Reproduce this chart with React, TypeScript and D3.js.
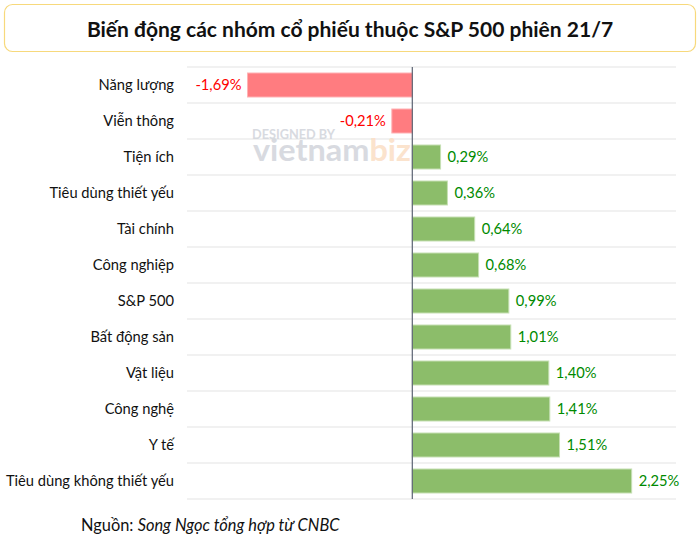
import React from "react";
import * as d3 from "d3";

const categories = [
  "Năng lượng",
  "Viễn thông",
  "Tiện ích",
  "Tiêu dùng thiết yếu",
  "Tài chính",
  "Công nghiệp",
  "S&P 500",
  "Bất động sản",
  "Vật liệu",
  "Công nghệ",
  "Y tế",
  "Tiêu dùng không thiết yếu",
];
const values = [-1.69, -0.21, 0.29, 0.36, 0.64, 0.68, 0.99, 1.01, 1.4, 1.41, 1.51, 2.25];
const title = "Biến động các nhóm cổ phiếu thuộc S&P 500 phiên 21/7";

const W = 700;
const H = 545;
const FONT = "Lato, 'Open Sans', sans-serif";

export default function App() {
  const x = d3.scaleLinear().domain([-2, 2.6]).range([412.3 - 195, 412.3 + 2.6 * 97.5]);
  const y = d3.scaleBand<string>().domain(categories).range([67, 499]).paddingInner(0.333).paddingOuter(0.1665);
  const step = y.step();
  const fmt = (v: number) => d3.format(".2f")(v).replace(".", ",").replace("−", "-") + "%";

  return (
    <svg width={W} height={H} style={{ position: "absolute", left: 0, top: 0, fontFamily: FONT }}>
      <rect x={0} y={0} width={W} height={H} fill="#fff" />
      <rect x={4.5} y={4.5} width={691} height={47} rx={8} fill="#fff" stroke="#f7d97c" strokeWidth={1.2} />
      <text x={350} y={37} textAnchor="middle" fontSize={21} fontWeight={700} fill="#111">
        {title}
      </text>

      {categories.map((c, i) => (
        <line key={"g" + i} x1={187} x2={676} y1={67 + i * step} y2={67 + i * step} stroke="#e3e3e3" strokeWidth={1.2} />
      ))}
      <line x1={187} x2={676} y1={499} y2={499} stroke="#e3e3e3" strokeWidth={1.2} />

      {/* watermark */}
      <text fontWeight={700} fill="#d4d7dd" opacity={0.9}>
        <tspan x={252} y={139} fontSize={14} textLength={83} lengthAdjust="spacingAndGlyphs">DESIGNED BY</tspan>
        <tspan x={253} y={161} fontSize={31} textLength={158} lengthAdjust="spacingAndGlyphs">
          vietnam<tspan fill="#fbe0c8">biz</tspan>
        </tspan>
      </text>

      {values.map((v, i) => {
        const c = categories[i];
        const y0 = y(c)!;
        const bx = x(Math.min(0, v));
        const bw = Math.abs(x(v) - x(0));
        const neg = v < 0;
        return (
          <g key={c}>
            <rect x={bx} y={y0} width={bw} height={y.bandwidth()} fill={neg ? "#ff7c80" : "#8cbd6a"} stroke={neg ? "#ffb3b5" : "#c6e0b4"} strokeWidth={1} />
            <text
              x={neg ? x(v) - 6 : x(v) + 7}
              y={y0 + y.bandwidth() / 2}
              dy="0.35em"
              textAnchor={neg ? "end" : "start"}
              fontSize={14.7}
              fill={neg ? "#ff0000" : "#008a00"}
            >
              {fmt(v)}
            </text>
            <text x={174} y={y0 + y.bandwidth() / 2} dy="0.35em" textAnchor="end" fontSize={14.7} fill="#111">
              {c}
            </text>
          </g>
        );
      })}

      <line x1={x(0)} x2={x(0)} y1={67} y2={499} stroke="#5b6272" strokeWidth={1.2} />

      <text x={81} y={531} fontSize={16.4} fill="#111">
        Nguồn: <tspan fontStyle="italic">Song Ngọc tổng hợp từ CNBC</tspan>
      </text>
    </svg>
  );
}
